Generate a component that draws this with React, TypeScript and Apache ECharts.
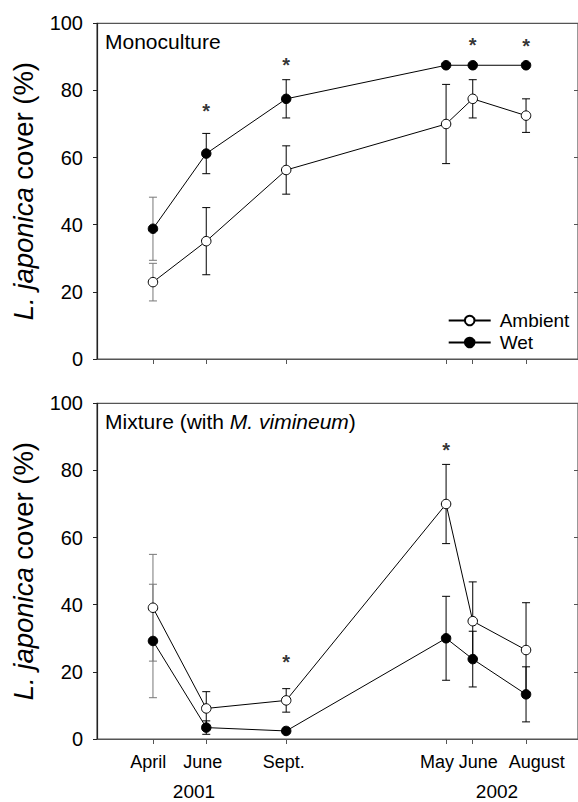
import React, { useEffect, useRef } from 'react';
import * as echarts from 'echarts';

// ---- data ----
const months = [4, 6, 9, 15, 16, 18];
const monthLabels = ['April', 'June', 'Sept.', 'May', 'June', 'August'];
const yearLabels = ['2001', '2002'];

const monoAmbient = [22.9, 35.1, 56.3, 70.0, 77.5, 72.5];
const monoAmbientErr = [5.6, 10.0, 7.2, 11.8, 5.7, 5.0];
const monoWet = [38.8, 61.2, 77.5, 87.5, 87.5, 87.5];
const monoWetErr = [9.4, 6.0, 5.7, 0, 0, 0];
const monoStarX = [6, 9, 16, 18];
const monoStarY = [75.3, 89.0, 95.0, 94.5];

const mixAmbient = [39.1, 9.1, 11.5, 70.0, 35.1, 26.5];
const mixAmbientErr = [15.9, 5.0, 3.5, 11.8, 11.7, 14.1];
const mixWet = [29.2, 3.4, 2.4, 30.0, 23.8, 13.3];
const mixWetErr = [16.9, 2.0, 0.8, 12.5, 8.3, 8.2];
const mixStarX = [9, 15];
const mixStarY = [24.2, 87.3];

// ---- style ----
const FF = '"Liberation Sans", Arial, Helvetica, sans-serif';
const AXIS_COLOR = '#555';
const LABEL_OFFSETS = [-4.7, -3.4, -2.5, -9, 5.5, 10.8];
const YEAR_X = [194, 497];

const xs = (arr: number[]) => months.map((m, i) => [m, arr[i]]);
const errData = (vals: number[], errs: number[]) => months.map((m, i) => [m, vals[i], errs[i]]);

function errSeries(name: string, vals: number[], errs: number[], gi: number) {
  return {
    type: 'custom',
    name: name + ' err',
    xAxisIndex: gi,
    yAxisIndex: gi * 2,
    z: 1,
    silent: true,
    data: errData(vals, errs),
    encode: { x: 0, y: 1 },
    renderItem: (params: any, api: any) => {
      const x = api.value(0);
      const y = api.value(1);
      const e = api.value(2);
      if (!e) return { type: 'group', children: [] };
      const hi = api.coord([x, y + e]);
      const lo = api.coord([x, y - e]);
      const hw = 4;
      const color = params.dataIndex === 0 ? '#777' : '#000';
      const st = { stroke: color, lineWidth: 1 };
      return {
        type: 'group',
        children: [
          { type: 'line', shape: { x1: hi[0], y1: hi[1], x2: lo[0], y2: lo[1] }, style: st },
          { type: 'line', shape: { x1: hi[0] - hw, y1: hi[1], x2: hi[0] + hw, y2: hi[1] }, style: st },
          { type: 'line', shape: { x1: lo[0] - hw, y1: lo[1], x2: lo[0] + hw, y2: lo[1] }, style: st },
        ],
      };
    },
  };
}

function lineSeries(name: string, vals: number[], gi: number, filled: boolean) {
  return {
    type: 'line',
    name,
    xAxisIndex: gi,
    yAxisIndex: gi * 2,
    z: 3,
    data: xs(vals),
    symbol: 'circle',
    symbolSize: 9.5,
    lineStyle: { color: '#000', width: 1 },
    itemStyle: { color: filled ? '#000' : '#fff', borderColor: '#000', borderWidth: 1 },
    emphasis: { disabled: true },
  };
}

function starSeries(sx: number[], sy: number[], gi: number) {
  return {
    type: 'scatter',
    xAxisIndex: gi,
    yAxisIndex: gi * 2,
    z: 4,
    silent: true,
    symbolSize: 0,
    data: sx.map((x, i) => [x, sy[i]]),
    label: {
      show: true,
      position: 'inside',
      formatter: '*',
      fontSize: 20,
      fontWeight: 'bold',
      fontFamily: FF,
      color: '#000',
      offset: [0, 4.5],
    },
  };
}

const GRID_LEFT = 97;
const GRID_W = 482;
const GRID_H = 335.7;
const GRID_TOPS = [23.3, 403.3];

function xAxis(gi: number) {
  return {
    type: 'value',
    gridIndex: gi,
    min: 1.9,
    max: 19.95,
    axisLine: { show: true, lineStyle: { color: AXIS_COLOR, width: 1.2 } },
    axisTick: { show: true, customValues: months, length: 5, inside: false, lineStyle: { color: AXIS_COLOR } },
    axisLabel: { show: false },
    splitLine: { show: false },
  };
}

function yAxes(gi: number) {
  return [
    {
      type: 'value',
      gridIndex: gi,
      min: 0,
      max: 100,
      interval: 20,
      axisLine: { show: true, lineStyle: { color: '#222', width: 1.2 } },
      axisTick: { show: true, length: 4, inside: false, lineStyle: { color: '#222' } },
      axisLabel: { show: true, fontSize: 20, fontFamily: FF, color: '#000', margin: 14 },
      splitLine: { show: false },
    },
    {
      type: 'value',
      gridIndex: gi,
      position: 'right',
      min: 0,
      max: 100,
      interval: 20,
      axisLine: { show: false },
      axisTick: { show: true, length: 4, inside: true, lineStyle: { color: AXIS_COLOR } },
      axisLabel: { show: false },
      splitLine: { show: false },
    },
  ];
}

const txt = (size: number, extra: any = {}) => ({
  fontSize: size,
  fontFamily: FF,
  font: `${size}px ${FF}`,
  fill: '#000',
  ...extra,
});

export default function App() {
  const ref = useRef<HTMLDivElement>(null);

  useEffect(() => {
    if (!ref.current) return;
    const chart = echarts.init(ref.current, null, { renderer: 'svg' });
    chart.setOption({
      animation: false,
      backgroundColor: '#fff',
      grid: GRID_TOPS.map((t) => ({
        left: GRID_LEFT,
        top: t,
        width: GRID_W,
        height: GRID_H,
        show: true,
        borderColor: AXIS_COLOR,
        borderWidth: 1.2,
        backgroundColor: 'transparent',
      })),
      xAxis: [xAxis(0), xAxis(1)],
      yAxis: [...yAxes(0), ...yAxes(1)],
      legend: {
        data: ['Ambient', 'Wet'],
        orient: 'vertical',
        left: 447.7,
        top: 311,
        padding: 0,
        itemWidth: 42,
        itemHeight: 12,
        itemGap: 3,
        selectedMode: false,
        textStyle: { fontSize: 19, fontFamily: FF, color: '#000', padding: [0, 0, 0, 4] },
      },
      series: [
        errSeries('Ambient', monoAmbient, monoAmbientErr, 0),
        errSeries('Wet', monoWet, monoWetErr, 0),
        lineSeries('Ambient', monoAmbient, 0, false),
        lineSeries('Wet', monoWet, 0, true),
        starSeries(monoStarX, monoStarY, 0),
        errSeries('Ambient', mixAmbient, mixAmbientErr, 1),
        errSeries('Wet', mixWet, mixWetErr, 1),
        lineSeries('Ambient', mixAmbient, 1, false),
        lineSeries('Wet', mixWet, 1, true),
        starSeries(mixStarX, mixStarY, 1),
      ],
    });

    const monthY = GRID_TOPS[1] + GRID_H + 22.5;
    const monthEls = months.map((m, i) => {
      const px = chart.convertToPixel({ xAxisIndex: 1 } as any, m) as unknown as number;
      return {
        type: 'text',
        x: px + LABEL_OFFSETS[i],
        y: monthY,
        silent: true,
        style: txt(18, { text: monthLabels[i], align: 'center', verticalAlign: 'middle' }),
      };
    });
    const yearEls = yearLabels.map((t, i) => ({
      type: 'text',
      x: YEAR_X[i],
      y: 791.5,
      silent: true,
      style: txt(19, { text: t, align: 'center', verticalAlign: 'middle' }),
    }));
    const yTitles = GRID_TOPS.map((t) => ({
      type: 'text',
      x: 23,
      y: t + GRID_H / 2,
      rotation: Math.PI / 2,
      silent: true,
      style: txt(27.5, {
        text: '{i|L. japonica} cover (%)',
        align: 'center',
        verticalAlign: 'middle',
        rich: { i: { fontStyle: 'italic', fontSize: 27.5, fontFamily: FF, fill: '#000' } },
      }),
    }));
    const panelTitles = [
      {
        type: 'text',
        x: 105,
        y: 41,
        silent: true,
        style: txt(21, { text: 'Monoculture', align: 'left', verticalAlign: 'middle' }),
      },
      {
        type: 'text',
        x: 105,
        y: 421,
        silent: true,
        style: txt(21, {
          text: 'Mixture (with {i|M. vimineum})',
          align: 'left',
          verticalAlign: 'middle',
          rich: { i: { fontStyle: 'italic', fontSize: 21, fontFamily: FF, fill: '#000' } },
        }),
      },
    ];
    chart.setOption({ graphic: { elements: [...monthEls, ...yearEls, ...yTitles, ...panelTitles] } });

    return () => chart.dispose();
  }, []);

  return (
    <div
      ref={ref}
      style={{ position: 'absolute', left: 0, top: 0, width: 578, height: 802, background: '#fff' }}
    />
  );
}
